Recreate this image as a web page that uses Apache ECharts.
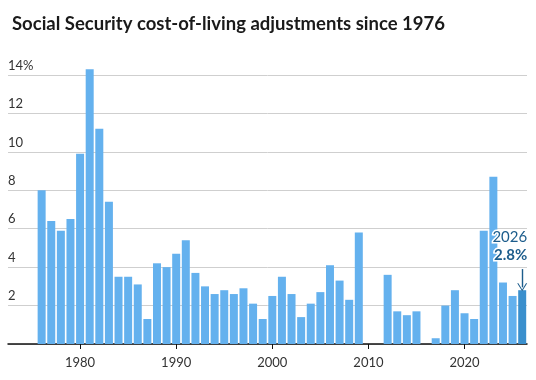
<!DOCTYPE html>
<html><head><meta charset="utf-8">
<script src="https://cdn.jsdelivr.net/npm/echarts@6/dist/echarts.min.js"></script>
<style>html,body{margin:0;padding:0;background:#fff}#c{width:536px;height:380px}</style>
</head><body><div id="c"></div>
<script>
const titleText = 'Social Security cost-of-living adjustments since 1976';
const years = [1976,1977,1978,1979,1980,1981,1982,1983,1984,1985,1986,1987,1988,1989,1990,1991,1992,1993,1994,1995,1996,1997,1998,1999,2000,2001,2002,2003,2004,2005,2006,2007,2008,2009,2010,2011,2012,2013,2014,2015,2016,2017,2018,2019,2020,2021,2022,2023,2024,2025,2026];
const cola = [8.0,6.4,5.9,6.5,9.9,14.3,11.2,7.4,3.5,3.5,3.1,1.3,4.2,4.0,4.7,5.4,3.7,3.0,2.6,2.8,2.6,2.9,2.1,1.3,2.5,3.5,2.6,1.4,2.1,2.7,4.1,3.3,2.3,5.8,0,0,3.6,1.7,1.5,1.7,0,0.3,2.0,2.8,1.6,1.3,5.9,8.7,3.2,2.5,2.8];
const padYears = [1973,1974,1975];
const xTickYears = [1980,1990,2000,2010,2020];
const yTicks = [0,2,4,6,8,10,12,14];
const highlightYear = 2026;

const categories = padYears.concat(years).map(String);
const barColor = '#64b1ee', hiColor = '#3a8fcd', annColor = '#1d5d8c';
const data = padYears.map(() => null).concat(cola.map((v, i) => {
  if (years[i] !== highlightYear) return v;
  return {
    value: v,
    itemStyle: {color: hiColor},
    label: {
      show: true, position: 'top', align: 'right', distance: 26, offset: [5, 0],
      formatter: '{a|' + highlightYear + '}\n{b|' + v.toFixed(1) + '%}',
      rich: {
        a: {fontSize: 15, color: annColor, fontFamily: 'Lato', lineHeight: 18, textBorderColor: '#fff', textBorderWidth: 3},
        b: {fontSize: 15, fontWeight: 'bold', color: annColor, fontFamily: 'Lato', lineHeight: 18, textBorderColor: '#fff', textBorderWidth: 3}
      }
    }
  };
}));
const isTick = (idx) => xTickYears.indexOf(+categories[idx]) >= 0;
const last = cola[cola.length - 1];

const chart = echarts.init(document.getElementById('c'));
chart.setOption({
  animation: false,
  title: {text: titleText, left: 7, top: 10, textStyle: {fontSize: 18.5, fontWeight: 'bold', color: '#1a1a1a', fontFamily: 'Lato'}},
  grid: {left: 8, right: 9, top: 75, bottom: 36},
  xAxis: {
    type: 'category', data: categories,
    axisLine: {lineStyle: {color: '#111', width: 1.5}},
    axisTick: {show: true, alignWithLabel: true, interval: (i) => isTick(i), length: 5, lineStyle: {color: '#111'}},
    axisLabel: {interval: (i) => isTick(i), color: '#333', fontSize: 13, margin: 12, fontFamily: 'Lato'}
  },
  yAxis: {
    type: 'value', min: yTicks[0], max: yTicks[yTicks.length - 1], interval: 2,
    axisLine: {show: false}, axisTick: {show: false},
    splitLine: {lineStyle: {color: '#cfcfcf', width: 1}},
    axisLabel: {
      inside: true, margin: 0, align: 'left', verticalAlign: 'bottom', padding: [0, 0, 3, 0],
      color: '#333', fontSize: 13, fontFamily: 'Lato',
      formatter: (v) => v === 0 ? '' : (v === yTicks[yTicks.length - 1] ? v + '%' : String(v))
    }
  },
  series: [{
    type: 'bar', data: data, barWidth: 8, clip: false,
    itemStyle: {color: barColor},
    markLine: {
      silent: true, symbol: ['none', 'path://M0,8 L1.2,8 L5,1.8 L8.8,8 L10,8 L5,0 Z'], symbolSize: [10, 8],
      label: {show: false},
      lineStyle: {color: annColor, width: 1.4, type: 'solid'},
      data: [[{coord: [String(highlightYear), last + 1.1]}, {coord: [String(highlightYear), last + 0.15]}]]
    }
  }]
});
</script></body></html>
